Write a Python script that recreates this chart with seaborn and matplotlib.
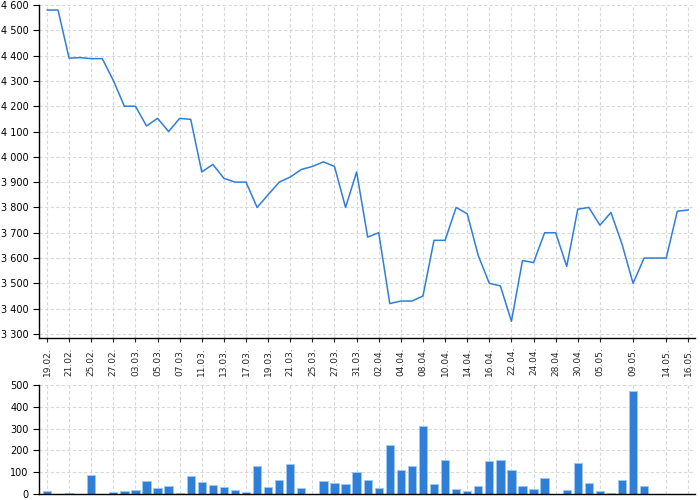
import matplotlib
matplotlib.use("Agg")
import matplotlib.pyplot as plt
import matplotlib.ticker as mticker
import numpy as np
import pandas as pd
import seaborn as sns

# trading days (labels shown every other day, as on the source chart)
dates = [
    "19.02.", "20.02.", "21.02.", "24.02.", "25.02.", "26.02.", "27.02.", "28.02.",
    "03.03.", "04.03.", "05.03.", "06.03.", "07.03.", "10.03.", "11.03.", "12.03.",
    "13.03.", "14.03.", "17.03.", "18.03.", "19.03.", "20.03.", "21.03.", "24.03.",
    "25.03.", "26.03.", "27.03.", "28.03.", "31.03.", "01.04.", "02.04.", "03.04.",
    "04.04.", "07.04.", "08.04.", "09.04.", "10.04.", "11.04.", "14.04.", "15.04.",
    "16.04.", "17.04.", "22.04.", "23.04.", "24.04.", "25.04.", "28.04.", "29.04.",
    "30.04.", "02.05.", "05.05.", "06.05.", "07.05.", "09.05.", "12.05.", "13.05.",
    "14.05.", "15.05.", "16.05.",
]
shown_labels = [
    "19.02.", "21.02.", "25.02.", "27.02.", "03.03.", "05.03.", "07.03.", "11.03.",
    "13.03.", "17.03.", "19.03.", "21.03.", "25.03.", "27.03.", "31.03.", "02.04.",
    "04.04.", "08.04.", "10.04.", "14.04.", "16.04.", "22.04.", "24.04.", "28.04.",
    "30.04.", "05.05.", "09.05.", "14.05.", "16.05.",
]

close = [
    4580, 4580, 4390, 4392, 4388, 4388, 4302, 4200, 4200, 4122,
    4152, 4100, 4152, 4148, 3940, 3970, 3915, 3900, 3900, 3800,
    3850, 3900, 3920, 3950, 3962, 3980, 3962, 3800, 3940, 3683,
    3700, 3420, 3430, 3430, 3450, 3670, 3670, 3800, 3775, 3610,
    3500, 3490, 3350, 3590, 3582, 3700, 3700, 3567, 3793, 3800,
    3730, 3780, 3655, 3500, 3600, 3600, 3600, 3785, 3790,
]
volume = [
    15, 0, 5, 0, 89, 0, 9, 15, 20, 60,
    28, 38, 5, 84, 57, 43, 31, 18, 11, 130,
    34, 66, 136, 26, 0, 60, 52, 47, 101, 63,
    26, 226, 112, 127, 310, 46, 157, 23, 12, 38,
    150, 156, 110, 38, 23, 72, 0, 17, 141, 50,
    12, 3, 66, 471, 38, 0, 0, 2, 2,
]

df = pd.DataFrame({"pos": np.arange(len(close)), "date": dates,
                   "close": close, "volume": volume})

sns.set_style("white")
plt.rcParams["font.family"] = ["DejaVu Sans"]

blue = "#2f7ed8"
grid_kw = dict(color="#d8d8d8", linestyle=(0, (3, 2)), linewidth=0.8)

fig = plt.figure(figsize=(7, 5), dpi=100)
ax1 = fig.add_axes([39 / 700, 1 - 338 / 500, 656 / 700, 333 / 500])
ax2 = fig.add_axes([39 / 700, 1 - 494 / 500, 656 / 700, 109 / 500])

sns.lineplot(data=df, x="pos", y="close", ax=ax1, color=blue, linewidth=1.1)
sns.barplot(data=df, x="pos", y="volume", ax=ax2, color=blue, width=0.75,
            edgecolor="#9fc8f0", linewidth=0.7, saturation=1, native_scale=True)

tick_pos = [dates.index(d) for d in shown_labels]
xlim = (-0.72, 58.6)

for ax in (ax1, ax2):
    ax.set_xlim(*xlim)
    ax.set_xticks(tick_pos)
    ax.grid(True, **grid_kw)
    ax.set_axisbelow(True)
    ax.set_xlabel("")
    ax.set_ylabel("")
    for s in ("top", "right"):
        ax.spines[s].set_visible(False)
    for s in ("left", "bottom"):
        ax.spines[s].set_color("black")
        ax.spines[s].set_linewidth(1.0)
    ax.tick_params(axis="y", direction="out", length=4, width=0.8,
                   labelsize=7, colors="black", left=True)

ax1.set_xticklabels(shown_labels, rotation=90, fontsize=6.5)
ax1.tick_params(axis="x", direction="out", length=3, width=0.8, bottom=True)
ax1.set_ylim(3284, 4600)
ax1.set_yticks(np.arange(3300, 4601, 100))
ax1.yaxis.set_major_formatter(
    mticker.FuncFormatter(lambda v, p: f"{int(v):,}".replace(",", " ")))

ax2.set_xticklabels([])
ax2.tick_params(axis="x", length=0)
ax2.set_ylim(0, 500)
ax2.set_yticks(np.arange(0, 501, 100))

fig.savefig("out.png", dpi=100)
